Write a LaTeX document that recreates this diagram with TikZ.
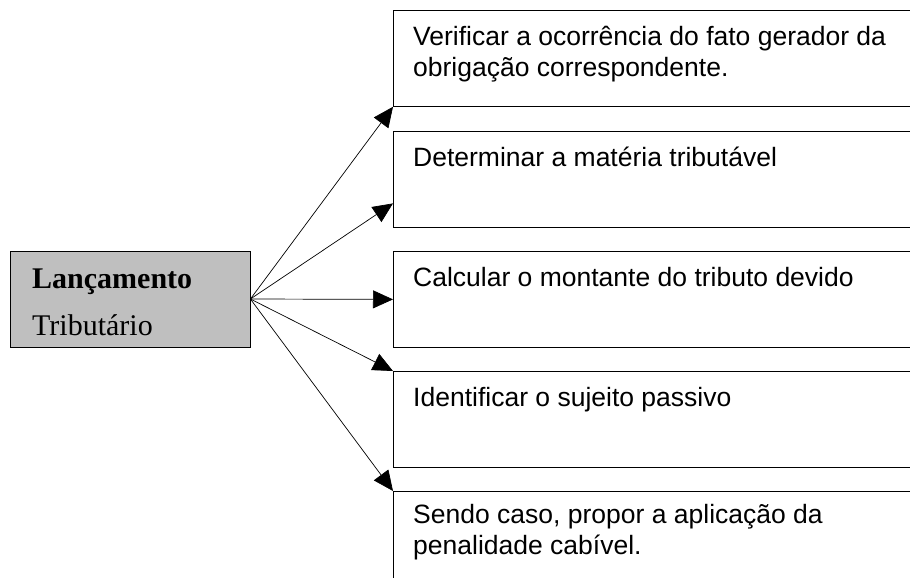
\documentclass[tikz,border=0pt]{standalone}
\usepackage{fontspec}
\setmainfont{Liberation Sans}
\newfontfamily\serifrm{Liberation Serif}
\usetikzlibrary{arrows.meta,positioning}

\tikzset{
  itembox/.style={draw=black, line width=0.8pt, minimum width=560pt, minimum height=96pt, anchor=north west, inner sep=0pt},
  itemtext/.style={anchor=base west, inner sep=0pt, align=left, font=\fontsize{26.5}{31}\selectfont},
  mainbox/.style={draw=black, fill=black!25, line width=0.8pt, minimum width=240pt, minimum height=96pt, inner sep=0pt},
  maintext/.style={anchor=base west, inner sep=0pt, font=\serifrm\fontsize{30}{36}\selectfont},
  link/.style={line width=0.7pt, -{Triangle[length=20pt,width=18pt]}}
}

\begin{document}
\begin{tikzpicture}[x=1pt,y=-1pt]
\useasboundingbox (0,0) rectangle (910,578);
\clip (0,0) rectangle (910,578);
\node[mainbox] (lanc) at (130,299) {};
\node[maintext] (lancA) at (32,288) {\bfseries Lançamento};
\node[maintext] (lancB) at (32,335) {Tributário};
\foreach \n/\top in {1/10,2/131,3/251,4/371,5/491}
  \node[itembox] (box\n) at (393,\top) {};
% base = linha de baixo nos textos de duas linhas
\node[itemtext] (txt1) at ([shift={(20,67)}]box1.north west) {Verificar a ocorrência do fato gerador da\\obrigação correspondente.};
\node[itemtext] (txt2) at ([shift={(20,35)}]box2.north west) {Determinar a matéria tributável};
\node[itemtext] (txt3) at ([shift={(20,35)}]box3.north west) {Calcular o montante do tributo devido};
\node[itemtext] (txt4) at ([shift={(20,35)}]box4.north west) {Identificar o sujeito passivo};
\node[itemtext] (txt5) at ([shift={(20,63)}]box5.north west) {Sendo caso, propor a aplicação da\\penalidade cabível.};
% setas do lancamento para cada etapa
\draw[link] (lanc.east) -- (box1.south west);
\draw[link] (lanc.east) -- ([shift={(0,24)}]box2.west);
\draw[link] (lanc.east) -- (box3.west);
\draw[link] (lanc.east) -- (box4.north west);
\draw[link] (lanc.east) -- (box5.north west);
\end{tikzpicture}
\end{document}
